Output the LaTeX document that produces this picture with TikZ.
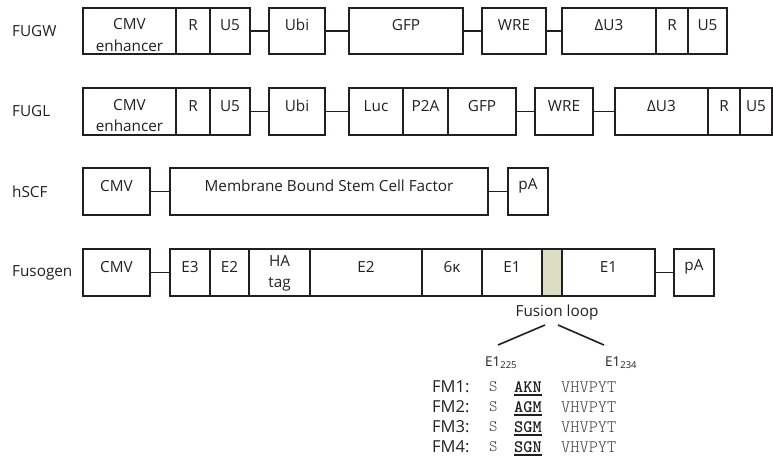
\documentclass[tikz,border=0pt]{standalone}
\usepackage{fontspec}
\setmainfont{Open Sans}
\newfontfamily\seqfont{Latin Modern Mono Light}
\usetikzlibrary{fit}
\definecolor{ink}{RGB}{35,31,32}
\definecolor{loop}{RGB}{220,222,196}
\newcommand\bx[6]{\node[blk,fit={(#2,#4) (#3,#5)}] (#1) {#6};}
\tikzset{
  blk/.style={draw=ink,line width=1.6pt,inner sep=0pt,align=center,font=\fontsize{15.3}{15.3}\selectfont,text=ink},
  two/.style={label={[align=center,inner sep=0pt,text=ink,font=\fontsize{15.3}{21.5}\selectfont,yshift=#1]center:CMV\\enhancer}},
  lnk/.style={draw=ink,line width=1.6pt},
  rowlab/.style={anchor=west,inner sep=0pt,font=\fontsize{15.3}{15.3}\selectfont,text=ink},
  seq/.style={anchor=west,inner sep=0pt,font=\seqfont\fontsize{17.5}{17.5}\selectfont,text=ink!85},
  uline/.style={draw=ink,line width=1.4pt},
}
\begin{document}
\begin{tikzpicture}[x=1pt,y=-1pt]
\useasboundingbox (0,0) rectangle (773,460);
% row labels
\node[rowlab] (lw) at (12,31) {FUGW};
\node[rowlab] (ll) at (12,111.5) {FUGL};
\node[rowlab] (lh) at (12,191.5) {hSCF};
\node[rowlab] (lf) at (12,272.5) {Fusogen};
% FUGW
\node[blk,two=-4pt,fit={(83,8) (176,54)}] (a1) {};
\bx{a2}{176}{210}{8}{54}{R}
\bx{a3}{210}{250}{8}{54}{U5}
\bx{a4}{269}{325}{8}{54}{Ubi}
\bx{a5}{349}{463}{8}{54}{GFP}
\bx{a6}{482}{546}{8}{54}{WRE}
\bx{a7}{562}{656}{8}{54}{ΔU3}
\bx{a8}{656}{688}{8}{54}{R}
\bx{a9}{688}{727}{8}{54}{U5}
\draw[lnk] (a3.east) -- (a4.west);
\draw[lnk] (a4.east) -- (a5.west);
\draw[lnk] (a5.east) -- (a6.west);
\draw[lnk] (a6.east) -- (a7.west);
% FUGL
\node[blk,two=-4pt,fit={(83,88) (176,135)}] (b1) {};
\bx{b2}{176}{210}{88}{135}{R}
\bx{b3}{210}{250}{88}{135}{U5}
\bx{b4}{269}{325}{88}{135}{Ubi}
\bx{b5}{349}{403}{88}{135}{Luc}
\bx{b6}{403}{448}{88}{135}{P2A}
\bx{b7}{448}{516}{88}{135}{GFP}
\bx{b8}{535}{593}{88}{135}{WRE}
\bx{b9}{615}{708}{88}{135}{ΔU3}
\bx{b10}{708}{740}{88}{135}{R}
\bx{b11}{740}{772}{88}{135}{U5}
\draw[lnk] (b3.east) -- (b4.west);
\draw[lnk] (b4.east) -- (b5.west);
\draw[lnk] (b7.east) -- (b8.west);
\draw[lnk] (b8.east) -- (b9.west);
% hSCF
\bx{c1}{83}{150}{168}{215}{CMV}
\bx{c2}{170}{488}{168}{215}{Membrane Bound Stem Cell Factor}
\bx{c3}{508}{548}{168}{215}{pA}
\draw[lnk] (c1.east) -- (c2.west);
\draw[lnk] (c2.east) -- (c3.west);
% Fusogen
\bx{d1}{83}{150}{249}{296}{CMV}
\bx{d2}{170}{210}{249}{296}{E3}
\bx{d3}{210}{249}{249}{296}{E2}
\node[blk,fit={(249,249) (310,296)},label={[align=center,inner sep=0pt,text=ink,font=\fontsize{15.3}{21}\selectfont,yshift=-1pt]center:HA\\tag}] (d4) {};
\bx{d5}{310}{422}{249}{296}{E2}
\bx{d6}{422}{482}{249}{296}{6κ}
\bx{d7}{482}{542}{249}{296}{E1}
\node[blk,fill=loop,fit={(542,249) (562,296)}] (d8) {};
\bx{d9}{562}{655}{249}{296}{E1}
\bx{d10}{674}{714}{249}{296}{pA}
\draw[lnk] (d1.east) -- (d2.west);
\draw[lnk] (d9.east) -- (d10.west);
% Fusion loop
\node[inner sep=0pt,font=\fontsize{15.3}{15.3}\selectfont,text=ink] (fl) at (557,313) {Fusion loop};
\node[inner sep=0pt,font=\fontsize{13.5}{13.5}\selectfont,text=ink,anchor=west] (e225) at (485,363) {E1\textsubscript{225}};
\node[inner sep=0pt,font=\fontsize{13.5}{13.5}\selectfont,text=ink,anchor=west] (e234) at (605,363) {E1\textsubscript{234}};
\coordinate (fla) at (545,325);
\coordinate (flb) at (558,325);
\coordinate (ea) at (498,345);
\coordinate (eb) at (604,345);
\draw[lnk] (fla) -- (ea);
\draw[lnk] (flb) -- (eb);
% sequences
\foreach \i/\m/\y in {1/AKN/387,2/AGM/407,3/SGM/427,4/SGN/447}{
  \node[rowlab,font=\fontsize{16.5}{16.5}\selectfont] (fm\i) at (432,\y) {FM\i:};
  \node[seq,font=\seqfont\fontsize{16}{16}\selectfont] (s\i) at (489,\y) {S};
  \node[seq,text=ink] (m\i) at (514,\y) {\bfseries\m};
  \node[seq] (v\i) at (561,\y) {VHVPYT};
  \draw[uline] ([yshift=-2.5pt]m\i.base west) -- ([yshift=-2.5pt]m\i.base east);
}
\end{tikzpicture}
\end{document}
